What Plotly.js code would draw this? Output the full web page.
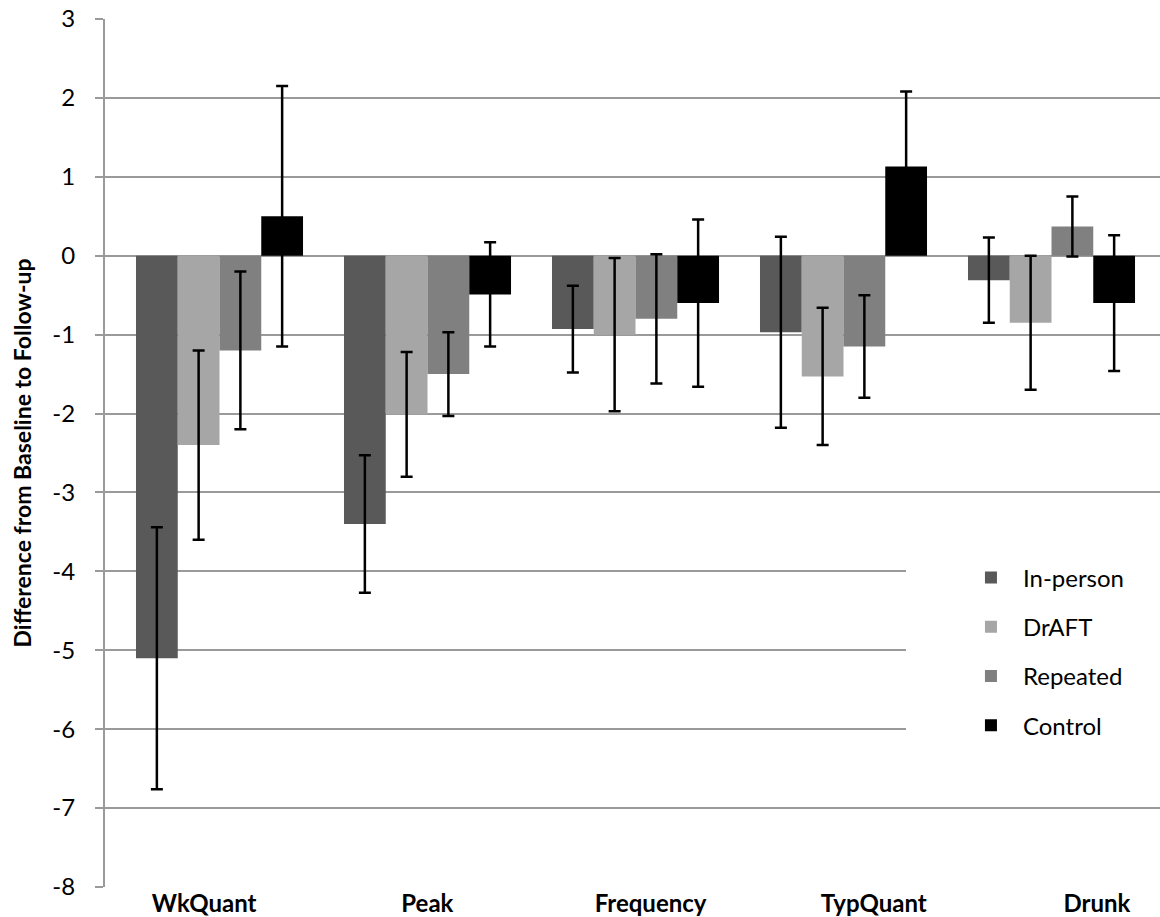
<!DOCTYPE html>
<html><head><meta charset="utf-8">
<script src="https://cdn.plot.ly/plotly-3.0.1.min.js"></script>
<style>html,body{margin:0;padding:0;background:#fff}</style>
</head><body><div id="chart" style="width:1160px;height:917px"></div>
<script>
const categories = ['WkQuant','Peak','Frequency','TypQuant','Drunk'];
const seriesNames = ['In-person','DrAFT','Repeated','Control'];
const inPerson = [-5.10,-3.40,-0.93,-0.97,-0.31];
const inPersonErr = [1.66,0.87,0.55,1.21,0.54];
const draft = [-2.40,-2.01,-1.00,-1.53,-0.85];
const draftErr = [1.20,0.79,0.97,0.87,0.85];
const repeated = [-1.20,-1.50,-0.80,-1.15,0.37];
const repeatedErr = [1.00,0.53,0.82,0.65,0.38];
const control = [0.50,-0.49,-0.60,1.13,-0.60];
const controlErr = [1.65,0.66,1.06,0.95,0.86];
const yTickVals = [3,2,1,0,-1,-2,-3,-4,-5,-6,-7,-8];
const yTickText = ['3','2','1','0','-1','-2','-3','-4','-5','-6','-7','-8'];
const categoryIndex = [0,1,2,3,4];

const seriesValues = [inPerson, draft, repeated, control];
const seriesErrors = [inPersonErr, draftErr, repeatedErr, controlErr];
const colors = ['#595959','#a6a6a6','#808080','#000000'];

const traces = seriesNames.map((name, i) => ({
  type: 'bar',
  name: name,
  x: categories,
  y: seriesValues[i],
  legendgroup: 'g' + i,
  marker: {color: colors[i]},
  error_y: {type: 'data', array: seriesErrors[i], visible: true, color: '#000', thickness: 2.5, width: 6},
  hoverinfo: 'x+y+name'
}));
// carrier for the category label axis (no visible marks)
traces.push({
  type: 'scatter', mode: 'markers', xaxis: 'x2', yaxis: 'y',
  x: categoryIndex, y: categoryIndex.map(() => null),
  showlegend: false, hoverinfo: 'skip'
});

const gridCol = '#9a9a9a';
const layout = {
  width: 1160, height: 917,
  margin: {l: 105, r: 0, t: 19, b: 30, autoexpand: false},
  paper_bgcolor: '#fff', plot_bgcolor: '#fff',
  font: {family: 'Lato, "Open Sans", sans-serif', color: '#000', size: 23},
  barmode: 'group', bargap: 0.197, bargroupgap: 0,
  showlegend: true,
  legend: {
    x: 0.7592, xanchor: 'left', y: 0.443, yanchor: 'top',
    bgcolor: '#fff', bordercolor: '#fff', borderwidth: 53,
    itemwidth: 54, tracegroupgap: 15,
    font: {family: 'Lato, sans-serif', size: 24, color: '#000'}
  },
  xaxis: {
    type: 'category', range: [-0.5505, 4.5216],
    showticklabels: false, ticks: '', showgrid: false, zeroline: false, showline: false,
    fixedrange: true
  },
  xaxis2: {
    type: 'linear', overlaying: 'x', anchor: 'y', side: 'bottom',
    range: [-0.4444, 4.2823],
    tickmode: 'array', tickvals: categoryIndex, ticktext: categories,
    ticks: '', showgrid: false, zeroline: false, showline: false,
    tickfont: {family: 'Lato, sans-serif', size: 24, weight: 'bold', color: '#000'}
  },
  yaxis: {
    range: [-8, 3], tickmode: 'array', tickvals: yTickVals, ticktext: yTickText,
    showgrid: true, gridcolor: gridCol, gridwidth: 2,
    zeroline: true, zerolinecolor: gridCol, zerolinewidth: 2,
    showline: true, linecolor: gridCol, linewidth: 2,
    ticks: 'outside', ticklen: 8, tickwidth: 2, tickcolor: gridCol,
    ticklabelstandoff: 15,
    tickfont: {family: 'Lato, sans-serif', size: 24, color: '#000'},
    title: {text: 'Difference from Baseline to Follow-up', standoff: 14,
      font: {family: 'Lato, sans-serif', size: 23, weight: 'bold', color: '#000'}}
  }
};

Plotly.newPlot('chart', traces, layout, {displayModeBar: false, staticPlot: true});
</script>
</body></html>
